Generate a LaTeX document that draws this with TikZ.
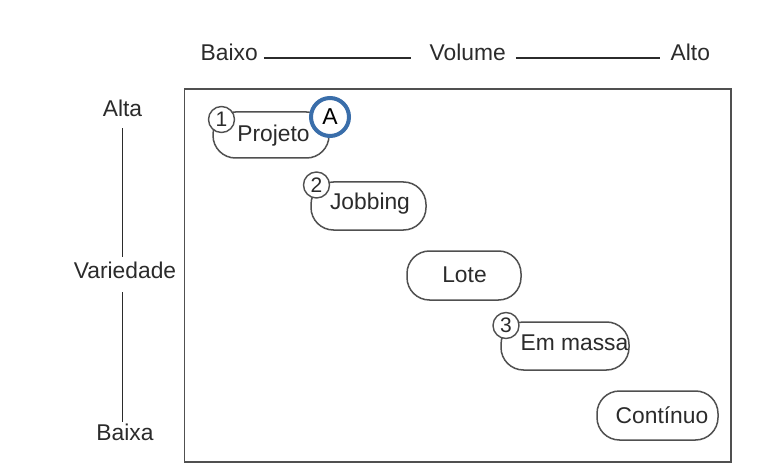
\documentclass[tikz,border=0pt]{standalone}
\usepackage{fontspec}
\setmainfont{Liberation Sans}
\definecolor{ink}{HTML}{2B2B2B}
\definecolor{edge}{HTML}{505050}
\definecolor{ringblue}{RGB}{58,110,170}

\begin{document}
\begin{tikzpicture}[x=1pt,y=-1pt,
  lbl/.style={inner sep=0pt, anchor=base, text=ink, font=\fontsize{22.8}{27}\selectfont},
  kind/.style={draw=edge, line width=1.5pt, rounded corners=22.5pt, fill=white, inner sep=0pt},
  num/.style={circle, draw=edge, line width=1.4pt, fill=white, minimum size=26pt,
              inner sep=0pt, text=ink, font=\fontsize{21}{25}\selectfont},
  mark ring/.style={circle, draw=ringblue, line width=4pt, fill=white, minimum size=38pt,
              inner sep=0pt, text=black, font=\fontsize{23}{27}\selectfont},
  rule/.style={draw=ink, line width=1.2pt}]

% canvas
\fill[white] (0,0) rectangle (766,468);
\useasboundingbox (0,0) rectangle (766,468);

% frame of the matrix
\draw[draw=edge, line width=1.8pt] (184.5,89) rectangle (731,462);

% volume axis
\node[lbl, anchor=base west] (baixo) at (200.5,61) {Baixo};
\node[lbl, anchor=base west] (volume) at (429.5,61) {Volume};
\node[lbl, anchor=base west] (alto) at (670.5,61) {Alto};
\draw[rule, shorten <=6pt, shorten >=19pt] ([yshift=3pt]baixo.base east) -- ([yshift=3pt]volume.base west);
\draw[rule, shorten <=10pt, shorten >=11pt] ([yshift=3pt]volume.base east) -- ([yshift=3pt]alto.base west);

% variety axis
\node[lbl] (alta) at (122.5,117) {Alta};
\node[lbl] (variedade) at (125,278) {Variedade};
\node[lbl] (baixa) at (125,440) {Baixa};
\draw[rule, shorten <=11pt, shorten >=4pt] (alta.south -| 122.5,0) -- (variedade.north -| 122.5,0);
\draw[rule, shorten <=14pt, shorten >=1pt] (variedade.south -| 122.5,0) -- (baixa.north -| 122.5,0);

% process types
\node[kind, minimum width=116pt, minimum height=46pt] (projeto) at (271,135) {};
\node[kind, minimum width=115pt, minimum height=48pt] (jobbing) at (368.5,206) {};
\node[kind, minimum width=114pt, minimum height=49pt] (lote) at (464,275.5) {};
\node[kind, minimum width=128pt, minimum height=48pt] (massa) at (565,346) {};
\node[kind, minimum width=121pt, minimum height=49pt] (continuo) at (657.5,415.5) {};

\node[lbl] (tprojeto) at (273.5,141.5) {Projeto};
\node[lbl] (tjobbing) at (370,209) {Jobbing};
\node[lbl] (tlote) at (464.5,282.5) {Lote};
\node[lbl] (tmassa) at (574.5,350) {Em massa};
\node[lbl] (tcontinuo) at (662,423) {Contínuo};

% numbered markers
\node[num] (n1) at (221.5,119.5) {1};
\node[num] (n2) at (316.5,185) {2};
\node[num] (n3) at (506,325.5) {3};

% highlighted marker
\node[mark ring] (ma) at (330,117) {A};
\end{tikzpicture}
\end{document}
